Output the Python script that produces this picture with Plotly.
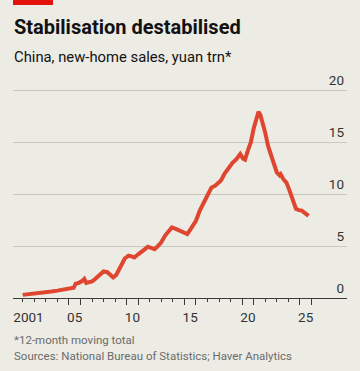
import plotly.graph_objects as go

# ---- data (12-month moving total, yuan trn) ----
months = [
    "2001-01", "2001-07", "2002-01", "2002-07", "2003-01", "2003-07", "2004-01", "2004-07",
    "2005-01", "2005-06", "2005-08", "2005-11", "2006-03", "2006-05", "2006-07", "2006-10",
    "2007-01", "2007-04", "2007-07", "2007-10", "2008-01", "2008-05", "2008-08", "2008-11",
    "2009-02", "2009-05", "2009-08", "2009-11", "2010-03", "2010-06", "2010-09", "2011-01",
    "2011-05", "2011-08", "2011-11", "2012-03", "2012-06", "2012-09", "2013-01", "2013-05",
    "2013-09", "2013-12", "2014-04", "2014-08", "2014-12", "2015-04", "2015-08", "2016-01",
    "2016-05", "2016-10", "2017-02", "2017-05", "2017-09", "2017-12", "2018-03", "2018-07",
    "2018-11", "2019-03", "2019-07", "2019-11", "2020-02", "2020-04", "2020-07", "2020-10",
    "2021-01", "2021-04", "2021-06", "2021-08", "2021-10", "2022-01", "2022-04", "2022-07",
    "2022-10", "2023-01", "2023-04", "2023-05", "2023-08", "2023-11", "2024-02", "2024-04",
    "2024-07", "2024-09", "2024-12", "2025-03", "2025-05", "2025-08", "2025-10",
]
sales = [
    0.30, 0.35, 0.41, 0.48, 0.55, 0.63, 0.71, 0.80,
    0.88, 0.98, 1.38, 1.44, 1.65, 1.83, 1.45, 1.52,
    1.60, 1.80, 2.05, 2.40, 2.55, 2.48, 2.20, 1.98,
    2.20, 2.65, 3.25, 3.80, 4.07, 4.00, 3.90, 4.20,
    4.55, 4.70, 4.93, 4.80, 4.70, 4.95, 5.35, 6.00,
    6.50, 6.79, 6.65, 6.47, 6.25, 6.15, 6.70, 7.43,
    8.40, 9.36, 10.15, 10.60, 10.80, 11.00, 11.30, 12.00,
    12.56, 13.00, 13.35, 13.85, 13.40, 13.30, 14.20, 14.96,
    16.30, 17.40, 17.90, 17.60, 17.00, 15.90, 14.60, 13.70,
    12.80, 12.08, 11.80, 11.90, 11.40, 11.10, 10.40, 9.84,
    9.10, 8.56, 8.45, 8.40, 8.25, 8.10, 7.90,
]
x_tick_years = [2001, 2005, 2010, 2015, 2020, 2025]
x_tick_text = ["2001", "05", "10", "15", "20", "25"]
y_ticks = [0, 5, 10, 15, 20]

# convert "YYYY-MM" to decimal year
xs = [int(m[:4]) + (int(m[5:]) - 1) / 12 for m in months]

BG = "#ECEBE4"
RED = "#E3120B"
LINE = "#E0452F"
FONT = "Roboto"

# plot area geometry (pixels)
YMAX = 22.5
BOTTOM = 298
PPU = 10.41  # pixels per unit
TOP = round(BOTTOM - YMAX * PPU)
PH = BOTTOM - TOP

fig = go.Figure()
fig.add_trace(go.Scatter(x=xs, y=sales, mode="lines",
                         line=dict(color=LINE, width=4), hoverinfo="skip",
                         showlegend=False))
# dummy trace for second x-axis (long ticks)
fig.add_trace(go.Scatter(x=[None], y=[None], xaxis="x2", yaxis="y", showlegend=False))

xr = [2000.16, 2029.08]
fig.update_layout(
    width=360, height=371,
    paper_bgcolor=BG, plot_bgcolor=BG,
    margin=dict(l=13, r=13, t=TOP, b=371 - BOTTOM),
    font=dict(family=FONT, size=13, color="#333333"),
    xaxis=dict(
        range=xr, showgrid=False, zeroline=False,
        showline=True, linecolor="#3a3a3a", linewidth=1.3,
        tickmode="array",
        tickvals=[y + 0.5 for y in x_tick_years], ticktext=x_tick_text,
        ticks="", ticklen=0,
        tickfont=dict(family=FONT, size=13.5, color="#333333"),
        ticklabelstandoff=6,
        minor=dict(tickmode="array", tickvals=list(range(2001, 2027)),
                   ticks="outside", ticklen=3, tickwidth=1, tickcolor="#3a3a3a",
                   showgrid=False),
    ),
    xaxis2=dict(
        range=xr, overlaying="x", anchor="y", side="bottom",
        showgrid=False, zeroline=False, showline=False,
        tickmode="array",
        tickvals=[v for y in x_tick_years[1:] for v in (y, y + 1)],
        ticks="outside", ticklen=6, tickwidth=1, tickcolor="#3a3a3a",
        showticklabels=False,
    ),
    yaxis=dict(
        range=[0, YMAX], side="right", tickmode="array", tickvals=y_ticks,
        showgrid=True, gridcolor="#C8C8C2", gridwidth=1,
        zeroline=False, showline=False, ticks="",
        ticklabelposition="inside top",
        tickfont=dict(family=FONT, size=13.5, color="#333333"),
    ),
)

def px_y(p):
    return (BOTTOM - p) / PH

# red brand bar, kept fully inside the figure
fig.add_shape(type="rect", xref="paper", yref="paper",
              x0=0, x1=40 / 334, y0=px_y(5), y1=px_y(0),
              fillcolor=RED, line=dict(width=0), layer="above")

fig.add_annotation(text="<b>Stabilisation destabilised</b>", xref="paper", yref="paper",
                   x=0, y=px_y(13), xanchor="left", yanchor="top", showarrow=False,
                   xshift=-1, font=dict(family=FONT, size=20, color="#121212"))
fig.add_annotation(text="China, new-home sales, yuan trn*", xref="paper", yref="paper",
                   x=0, y=px_y(46), xanchor="left", yanchor="top", showarrow=False,
                   xshift=-1, font=dict(family=FONT, size=14.8, color="#121212"))
fig.add_annotation(text="*12-month moving total", xref="paper", yref="paper",
                   x=0, y=px_y(331), xanchor="left", yanchor="top", showarrow=False,
                   xshift=-1, font=dict(family=FONT, size=11.5, color="#6b6b6b"))
fig.add_annotation(text="Sources: National Bureau of Statistics; Haver Analytics",
                   xref="paper", yref="paper",
                   x=0, y=px_y(347), xanchor="left", yanchor="top", showarrow=False,
                   xshift=-1, font=dict(family=FONT, size=11.5, color="#6b6b6b"))

fig.write_html("out.html", config={"staticPlot": True, "displayModeBar": False},
               post_script="document.body.style.margin='0';")
